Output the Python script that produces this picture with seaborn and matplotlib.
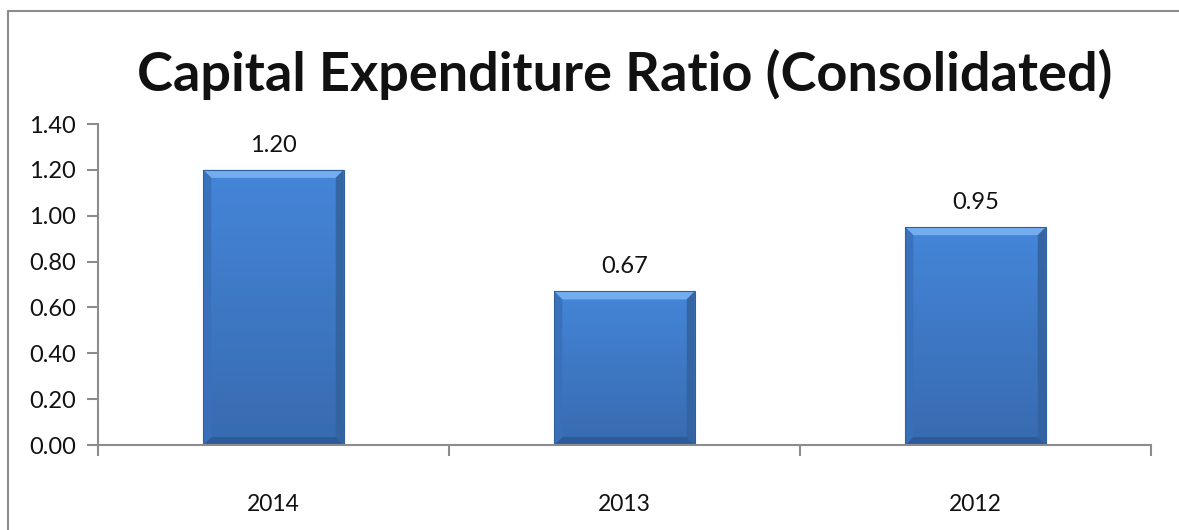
import numpy as np
import pandas as pd
import matplotlib
matplotlib.use("Agg")
import matplotlib.pyplot as plt
from matplotlib.patches import Polygon
from matplotlib.lines import Line2D
from matplotlib.colors import LinearSegmentedColormap
import seaborn as sns

# Data
years = ["2014", "2013", "2012"]
ratios = [1.20, 0.67, 0.95]
y_ticks = [0.0, 0.2, 0.4, 0.6, 0.8, 1.0, 1.2, 1.4]
title = "Capital Expenditure Ratio (Consolidated)"

sns.set_theme(style="white")
plt.rcParams["font.family"] = ["Lato", "DejaVu Sans"]

W, H = 1179, 530
fig = plt.figure(figsize=(W / 100, H / 100), dpi=100)
ax = fig.add_axes([98 / W, 85 / H, 1053 / W, 321 / H])

df = pd.DataFrame({"year": years, "ratio": ratios})
sns.barplot(data=df, x="year", y="ratio", color="#4181d4", width=0.40,
            saturation=1, ax=ax, zorder=2)

ax.set_xlim(-0.5, len(years) - 0.5)
ax.set_ylim(0, 1.4)
ax.set_yticks(y_ticks)
ax.set_yticklabels([f"{v:.2f}" for v in y_ticks], fontsize=17, color="#111111")
ax.set_xlabel("")
ax.set_ylabel("")

# Category ticks sit between the bars, labels at the bar centres
ax.set_xticks(np.arange(len(years)))
ax.set_xticklabels(years, fontsize=16.5, color="#111111")
ax.set_xticks(np.arange(len(years) + 1) - 0.5, minor=True)
ax.tick_params(axis="x", which="major", length=0, pad=35)
ax.tick_params(axis="x", which="minor", length=8, width=1.5, color="#8c8c8c",
               direction="out", bottom=True)
ax.tick_params(axis="y", which="major", length=8, width=1.5, color="#8c8c8c",
               direction="out", left=True, pad=8)

for side in ["top", "right"]:
    ax.spines[side].set_visible(False)
for side in ["left", "bottom"]:
    ax.spines[side].set_color("#8c8c8c")
    ax.spines[side].set_linewidth(1.5)

# Bevelled bar styling: vertical gradient plus light/dark edge facets
grad = LinearSegmentedColormap.from_list("bar", ["#4586d9", "#3e78c4", "#386bb0"])
fig.canvas.draw()
to_data = ax.transData.inverted()
bev_px = 8
for patch, val in zip(ax.patches, ratios):
    x0, w, h = patch.get_x(), patch.get_width(), patch.get_height()
    x1 = x0 + w
    patch.set_edgecolor("none")
    img = ax.imshow(np.linspace(0, 1, 256).reshape(-1, 1), cmap=grad, aspect="auto",
                    extent=[x0, x1, 0, h], origin="upper", zorder=2.1)
    img.set_clip_path(patch)
    # bevel size in data units
    p0 = ax.transData.transform((x0, 0))
    dx, dy = to_data.transform(p0 + np.array([bev_px, bev_px])) - np.array([x0, 0])
    facets = [
        ([(x0, h), (x1, h), (x1 - dx, h - dy), (x0 + dx, h - dy)], "#7ab2f2"),
        ([(x0, 0), (x1, 0), (x1 - dx, dy), (x0 + dx, dy)], "#2c5a98"),
        ([(x0, 0), (x0, h), (x0 + dx, h - dy), (x0 + dx, dy)], "#3a70ba"),
        ([(x1, 0), (x1, h), (x1 - dx, h - dy), (x1 - dx, dy)], "#33639f"),
    ]
    for pts, col in facets:
        ax.add_patch(Polygon(pts, closed=True, facecolor=col, edgecolor="none",
                             alpha=0.9, zorder=2.2))
    ax.add_patch(Polygon([(x0, 0), (x0, h), (x1, h), (x1, 0)], closed=True,
                         fill=False, edgecolor="#2f5f9f", linewidth=0.8, zorder=2.3))
    ax.annotate(f"{val:.2f}", (x0 + w / 2, h), xytext=(0, 10), textcoords="offset points",
                ha="center", va="bottom", fontsize=17, color="#111111")

ax.set_xlim(-0.5, len(years) - 0.5)
ax.set_ylim(0, 1.4)

fig.text(625 / W, 1 - 74 / H, title, ha="center", va="center",
         fontsize=39, fontweight="bold", color="#111111")

# Outer chart frame (top and left edges)
fig.add_artist(Line2D([8 / W, 1.0], [1 - 11 / H, 1 - 11 / H], color="#8c8c8c", lw=1.5))
fig.add_artist(Line2D([8 / W, 8 / W], [0, 1 - 11 / H], color="#8c8c8c", lw=1.5))

fig.savefig("out.png", dpi=100)
